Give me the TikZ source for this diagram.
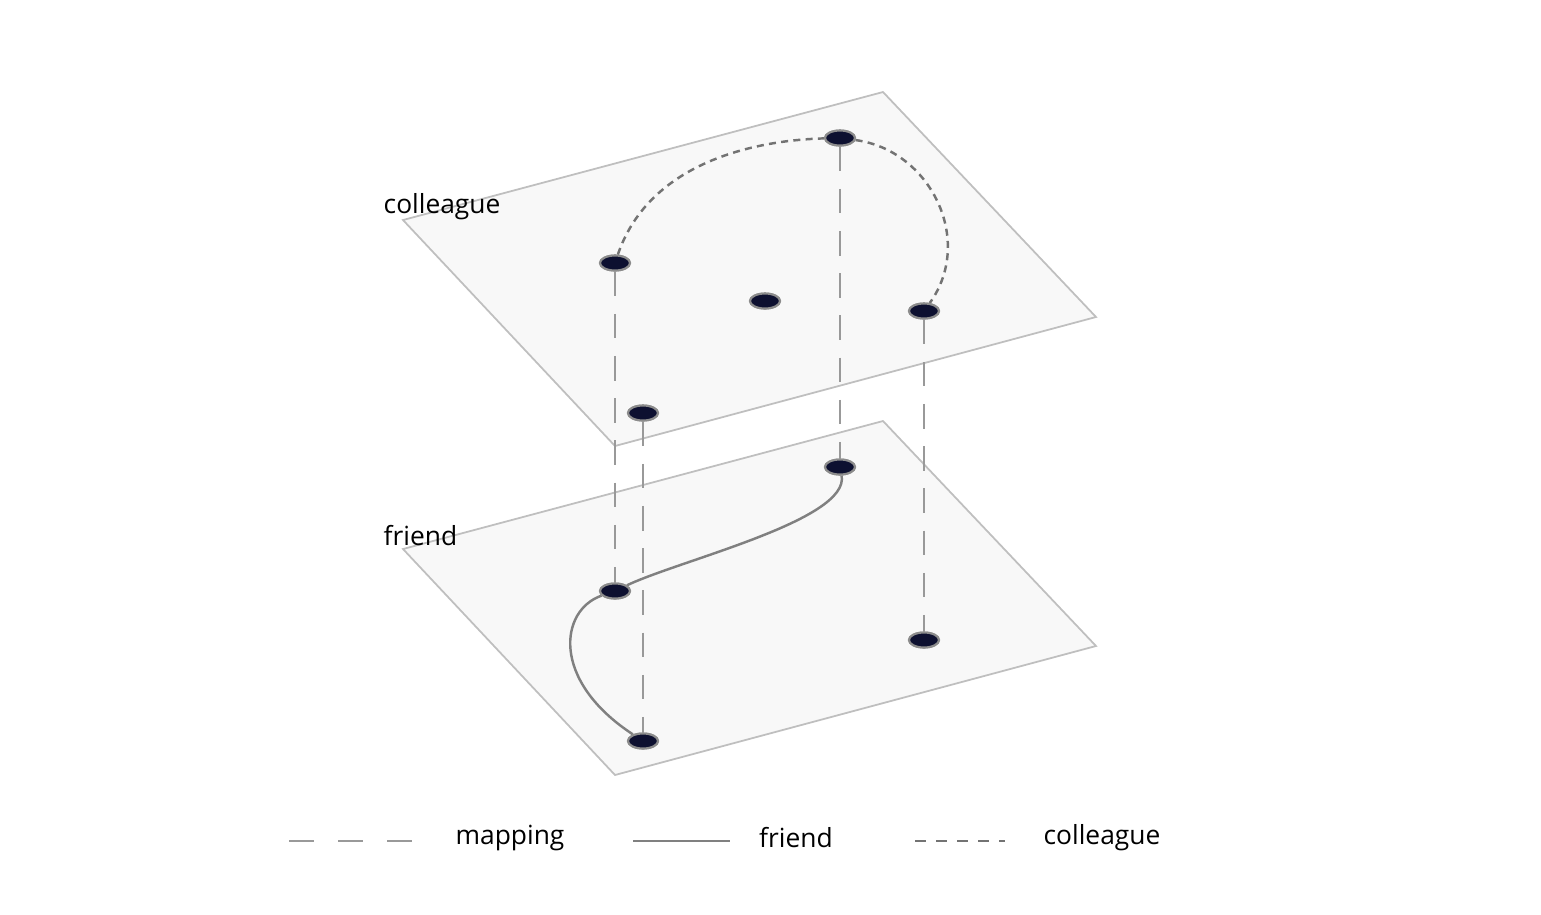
\documentclass[tikz,border=0pt]{standalone}
\usepackage{fontspec}
\setmainfont{Open Sans}
\usetikzlibrary{shapes.geometric}
\definecolor{dotfill}{HTML}{0D1030}
\definecolor{planefill}{HTML}{F8F8F8}
\begin{document}
\begin{tikzpicture}[x=0.01cm,y=-0.01cm,
        plane/.style={draw=black!25,fill=planefill,line width=0.5pt},
        dot/.style={ellipse,fill=dotfill,draw=black!45,line width=0.6pt,minimum width=0.3cm,minimum height=0.15cm,inner sep=0pt},
        mapping/.style={draw=black!40,dash pattern=on 7pt off 5pt,line width=0.5pt},
        friendline/.style={draw=black!50,line width=0.7pt},
        colleagueline/.style={draw=black!55,dash pattern=on 2pt off 1.5pt,line width=0.7pt},
        lbl/.style={font=\fontsize{7.5}{9}\selectfont,inner sep=0pt}
    ]
    \useasboundingbox (0,0) rectangle (1541,914);
    % planes
    \draw[plane] (403,549) -- (883,421) -- (1096,646) -- (615,775) -- cycle;
    \draw[plane] (403,220) -- (883,92) -- (1096,317) -- (615,446) -- cycle;
    \node[lbl,anchor=west] (lcol) at (383,207) {colleague};
    \node[lbl,anchor=west] (lfri) at (383,536) {friend};
    % nodes
    \node[dot] (c1) at (615,263) {};
    \node[dot] (c2) at (840,138) {};
    \node[dot] (c3) at (765,301) {};
    \node[dot] (c4) at (924,311) {};
    \node[dot] (c5) at (643,413) {};
    \node[dot] (f2) at (840,467) {};
    \node[dot] (f1) at (615,591) {};
    \node[dot] (f4) at (924,640) {};
    \node[dot] (f5) at (643,741) {};
    % mapping
    \begin{scope}[on background layer/.style={}]
        \draw[mapping] (c1) -- (f1);
        \draw[mapping] (c2) -- (f2);
        \draw[mapping] (c4) -- (f4);
        \draw[mapping] (c5) -- (f5);
    \end{scope}
    % relations
    \draw[colleagueline] (c1) .. controls (650,160) and (760,140) .. (c2);
    \draw[colleagueline] (c2) .. controls (930,150) and (975,240) .. (c4);
    \draw[friendline] (f2) .. controls (850,520) and (680,560) .. (f1);
    \draw[friendline] (f1) .. controls (560,610) and (550,680) .. (f5);
    % redraw dots over lines
    \foreach \n in {c1,c2,c3,c4,c5,f1,f2,f4,f5}
        \node[dot] at (\n) {};
    % legend
    \coordinate (m1) at (289,841); \coordinate (m2) at (412,841);
    \coordinate (r1) at (633,841); \coordinate (r2) at (730,841);
    \coordinate (k1) at (915,841); \coordinate (k2) at (1005,841);
    \draw[mapping,dash pattern=on 7pt off 7pt] (m1) -- (m2);
    \draw[friendline] (r1) -- (r2);
    \draw[colleagueline,dash pattern=on 3pt off 3pt] (k1) -- (k2);
    \node[lbl] (tm) at (510,838) {mapping};
    \node[lbl] (tf) at (796,838) {friend};
    \node[lbl] (tc) at (1102,838) {colleague};
\end{tikzpicture}
\end{document}
